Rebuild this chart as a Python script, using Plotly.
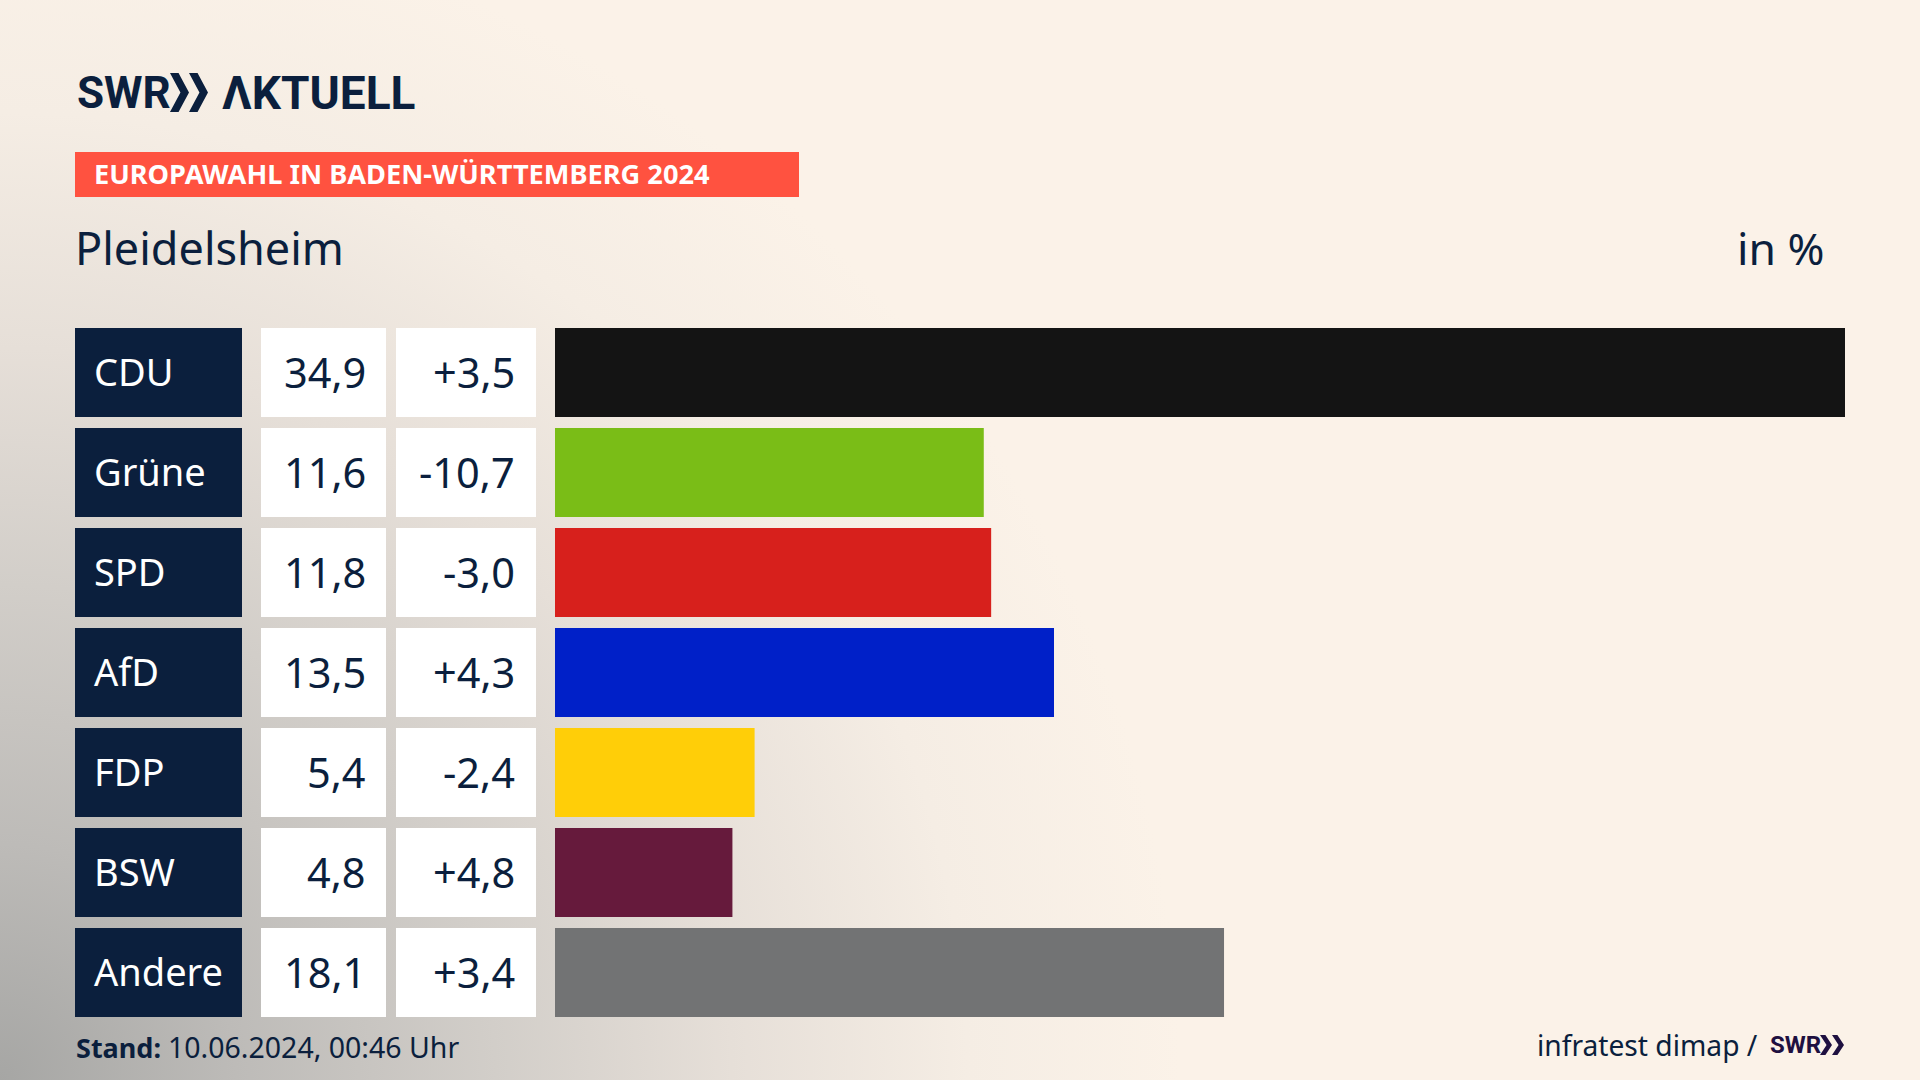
import base64
import plotly.graph_objects as go

parties = ["CDU", "Grüne", "SPD", "AfD", "FDP", "BSW", "Andere"]
shares = [34.9, 11.6, 11.8, 13.5, 5.4, 4.8, 18.1]
changes = ["+3,5", "-10,7", "-3,0", "+4,3", "-2,4", "+4,8", "+3,4"]
colors = ["#141414", "#7ABD17", "#D7201C", "#0020C8", "#FFCE08", "#661A3C", "#727374"]

W, H = 1920, 1080
NAVY = "#0B1F3D"
SANS = "Noto Sans"
LOGO = "Roboto"


def px(x):
    return x / W


def py(y):
    return 1 - y / H


svg = f"""<svg xmlns='http://www.w3.org/2000/svg' width='{W}' height='{H}'>
<defs><radialGradient id='g' gradientUnits='userSpaceOnUse' cx='0' cy='{H}' r='1180'>
<stop offset='0' stop-color='#A6A6A4'/><stop offset='0.2' stop-color='#BDBBB8'/>
<stop offset='0.42' stop-color='#D2CEC9'/><stop offset='0.62' stop-color='#E6DFD8'/>
<stop offset='0.82' stop-color='#F5EDE4'/><stop offset='1' stop-color='#FBF2E8'/>
</radialGradient></defs>
<rect width='{W}' height='{H}' fill='url(#g)'/></svg>"""
bg = "data:image/svg+xml;base64," + base64.b64encode(svg.encode()).decode()

fig = go.Figure(
    go.Bar(
        y=parties,
        x=shares,
        orientation="h",
        marker=dict(color=colors, line=dict(width=0)),
        hoverinfo="skip",
    )
)

shapes, ann = [], []


def rect(x0, x1, y0, y1, color):
    shapes.append(dict(type="rect", xref="paper", yref="paper", x0=px(x0), x1=px(x1),
                       y0=py(y0), y1=py(y1), fillcolor=color, line=dict(width=0), layer="below"))


def text(s, x, y, size, color=NAVY, anchor="left", family=SANS, yref="paper", yshift=0):
    ann.append(dict(text=s, xref="paper", yref=yref, x=px(x), y=py(y) if yref == "paper" else y,
                    xanchor=anchor, yanchor="middle", showarrow=False, align=anchor, yshift=yshift,
                    font=dict(size=size, color=color, family=family)))


def chevrons(x, top, bottom, w, color):
    mid = (top + bottom) / 2
    t = w * 0.45
    for dx in (0, w):
        pts = [(x + dx, top), (x + dx + t, top), (x + dx + w, mid), (x + dx + t, bottom),
               (x + dx, bottom), (x + dx + w - t, mid)]
        path = "M " + " L ".join(f"{px(a):.5f},{py(b):.5f}" for a, b in pts) + " Z"
        shapes.append(dict(type="path", xref="paper", yref="paper", path=path,
                           fillcolor=color, line=dict(width=0)))


# cells of the table, one row per party
for i, (party, share, change) in enumerate(zip(parties, shares, changes)):
    for x0, x1, c in ((75, 242, NAVY), (261, 386, "#FFFFFF"), (396, 536, "#FFFFFF")):
        shapes.append(dict(type="rect", xref="paper", yref="y", x0=px(x0), x1=px(x1),
                           y0=i - 0.445, y1=i + 0.445, fillcolor=c, line=dict(width=0), layer="below"))
    text(party, 92, party, 38, "#FFFFFF", yref="y", yshift=1.5)
    text(f"{share:.1f}".replace(".", ","), 367.5, party, 41.5, anchor="right", yref="y", yshift=1)
    text(change, 517, party, 41.5, anchor="right", yref="y", yshift=1)

# header
text("<b>SWR</b>", 75, 93, 44, family=LOGO)
chevrons(170, 73, 112, 19, NAVY)
text("<b>ΛKTUELL</b>", 220, 93, 46, family=LOGO)
rect(75, 799, 152, 197, "#FF5240")
text("<b>EUROPAWAHL IN BADEN-WÜRTTEMBERG 2024</b>", 92, 174, 27.2, "#FFFFFF")
text("Pleidelsheim", 73, 247, 45)
text("in %", 1827, 247, 44.5, anchor="right")

# footer
text("<b>Stand:</b>", 74, 1047, 27)
text("10.06.2024, 00:46 Uhr", 166, 1047, 28.5)
text("infratest dimap /", 1760, 1045, 28.2, anchor="right")
text("<b>SWR</b>", 1768, 1045, 24, "#1E1040", family=LOGO)
chevrons(1820, 1035, 1055, 12, "#1E1040")

fig.update_layout(
    width=W,
    height=H,
    margin=dict(l=0, r=0, t=0, b=0),
    paper_bgcolor="#FBF2E8",
    plot_bgcolor="rgba(0,0,0,0)",
    showlegend=False,
    bargap=0.11,
    shapes=shapes,
    annotations=ann,
    images=[dict(source=bg, xref="paper", yref="paper", x=0, y=1, sizex=1, sizey=1,
                 xanchor="left", yanchor="top", sizing="stretch", layer="below")],
    xaxis=dict(domain=[px(555), px(1845)], range=[0, 34.9], visible=False, fixedrange=True),
    yaxis=dict(domain=[py(1022.5), py(322.5)], type="category", categoryorder="array",
               categoryarray=parties, autorange="reversed", visible=False, fixedrange=True),
)

fig.write_html(
    "out.html",
    config={"displayModeBar": False},
    post_script="document.body.style.margin='0';document.body.style.overflow='hidden';",
)
